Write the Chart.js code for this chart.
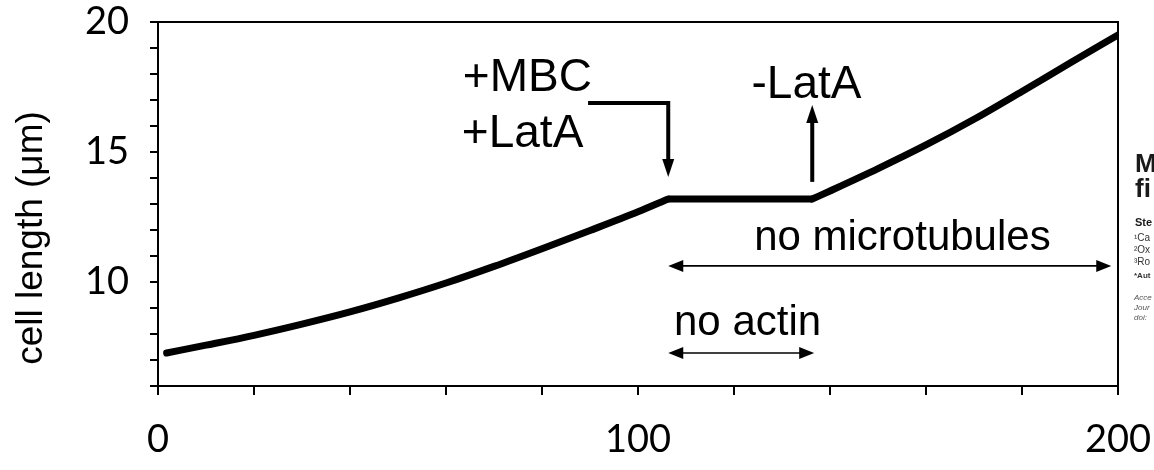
<!DOCTYPE html>
<html>
<head>
<meta charset="utf-8">
<script src="https://cdn.jsdelivr.net/npm/chart.js@4/dist/chart.umd.min.js"></script>
<style>
  html, body { margin: 0; padding: 0; background: #fff; }
  #wrap { width: 1154px; height: 470px; }
</style>
</head>
<body>
<div id="wrap"><canvas id="chart" width="1154" height="470"></canvas></div>
<script>
// Cell length (µm) against time (min)
const growthTime     = [1.8, 10, 20, 30, 40, 50, 60, 70, 80, 90, 100, 106.3];
const growthLength   = [7.27, 7.57, 7.95, 8.38, 8.85, 9.38, 9.96, 10.6, 11.28, 11.98, 12.7, 13.19];
const arrestTime     = [106.3, 136.3];
const arrestLength   = [13.19, 13.19];
const recoveryTime   = [136.3, 140, 150, 160, 170, 180, 190, 200];
const recoveryLength = [13.19, 13.5, 14.36, 15.27, 16.26, 17.33, 18.42, 19.5];

const xTickLabels = [0, 100, 200];
const yTickLabels = [10, 15, 20];

// Drug treatment times
const drugsAdded = 106.3;   // +MBC +LatA
const latAWashed = 136.3;   // -LatA
const timeEnd    = 198.6;

const pts = (xs, ys) => xs.map((v, i) => ({ x: v, y: ys[i] }));
const ARIAL = '"Liberation Sans", Arial, sans-serif';
const TICKFONT = 'Lato, "Open Sans", sans-serif';

function head(ctx, tx, ty, dx, dy, len, w) {
  // filled triangular arrow head with its tip at (tx, ty), pointing along (dx, dy)
  const bx = tx - dx * len, by = ty - dy * len;
  const nx = -dy * w / 2, ny = dx * w / 2;
  ctx.beginPath();
  ctx.moveTo(tx, ty);
  ctx.lineTo(bx + nx, by + ny);
  ctx.lineTo(bx - nx, by - ny);
  ctx.closePath();
  ctx.fill();
}

const frame = {
  id: 'frame',
  beforeDatasetsDraw(chart) {
    const { ctx, chartArea: a } = chart;
    ctx.save();
    ctx.strokeStyle = '#000';
    ctx.lineWidth = 2;
    ctx.beginPath();
    ctx.moveTo(a.left, a.top);
    ctx.lineTo(a.right, a.top);
    ctx.lineTo(a.right, a.bottom);
    ctx.stroke();
    ctx.restore();
  }
};

const annotate = {
  id: 'annotate',
  afterDatasetsDraw(chart) {
    const { ctx, scales: { x, y } } = chart;
    const px = v => x.getPixelForValue(v), py = v => y.getPixelForValue(v);
    ctx.save();
    ctx.fillStyle = '#000';
    ctx.strokeStyle = '#000';

    // treatment labels
    ctx.font = '46px ' + ARIAL;
    ctx.textBaseline = 'alphabetic';
    ctx.textAlign = 'left';
    ctx.fillText('+MBC', px(63.5), py(17.35));
    ctx.fillText('+LatA', px(63.3), py(15.19));
    ctx.textAlign = 'center';
    ctx.fillText('-LatA', px(latAWashed - 1.2), py(17.08));

    // bracket arrow down to the addition point
    const bx = px(drugsAdded);
    ctx.lineWidth = 4;
    ctx.lineJoin = 'miter';
    ctx.beginPath();
    ctx.moveTo(px(89.6), py(16.88));
    ctx.lineTo(bx, py(16.88));
    ctx.lineTo(bx, py(14.04) - 14);
    ctx.stroke();
    head(ctx, bx, py(14.04), 0, 1, 18, 12);

    // arrow up at the wash-out point
    const wx = px(latAWashed);
    ctx.beginPath();
    ctx.moveTo(wx, py(13.85));
    ctx.lineTo(wx, py(16.81) + 14);
    ctx.stroke();
    head(ctx, wx, py(16.81), 0, -1, 18, 12);

    // double-headed spans
    ctx.lineWidth = 1.6;
    const span = (x0, x1, yv) => {
      const a = px(x0), b = px(x1), yy = py(yv);
      ctx.beginPath();
      ctx.moveTo(a + 10, yy);
      ctx.lineTo(b - 10, yy);
      ctx.stroke();
      head(ctx, a, yy, -1, 0, 15, 12);
      head(ctx, b, yy, 1, 0, 15, 12);
    };
    span(drugsAdded, timeEnd, 10.62);
    span(drugsAdded, latAWashed + 0.4, 7.27);

    ctx.font = '42px ' + ARIAL;
    ctx.textAlign = 'left';
    ctx.fillText('no microtubules', px(124.2), py(11.23));
    ctx.fillText('no actin', px(107.5), py(7.96));

    // y axis title
    ctx.save();
    ctx.translate(32, 238);
    ctx.rotate(-Math.PI / 2);
    ctx.textAlign = 'center';
    ctx.textBaseline = 'middle';
    ctx.font = '37px ' + ARIAL;
    ctx.fillText('cell length (\u03BCm)', 0, 0);
    ctx.restore();

    // neighbouring page text at the right edge
    ctx.textAlign = 'left';
    ctx.fillStyle = '#1a1a1a';
    ctx.font = 'bold 26px ' + ARIAL;
    ctx.fillText('M', 1135, 172);
    ctx.fillText('fi', 1135, 197);
    ctx.font = 'bold 11px ' + ARIAL;
    ctx.fillText('Ste', 1135, 226);
    ctx.fillStyle = '#333';
    ctx.font = '10px ' + ARIAL;
    ctx.fillText('\u00B9Ca', 1134, 241);
    ctx.fillText('\u00B2Ox', 1134, 253);
    ctx.fillText('\u00B3Ro', 1134, 265);
    ctx.font = 'bold 8px ' + ARIAL;
    ctx.fillText('*Aut', 1134, 278);
    ctx.fillStyle = '#555';
    ctx.font = 'italic 8px ' + ARIAL;
    ctx.fillText('Acce', 1134, 300);
    ctx.fillText('Jour', 1134, 310);
    ctx.fillText('doi:', 1134, 320);
    ctx.restore();
  }
};

const lineStyle = {
  borderColor: '#000',
  borderWidth: 7,
  pointRadius: 0,
  borderCapStyle: 'round',
  borderJoinStyle: 'round',
  fill: false,
};

new Chart(document.getElementById('chart'), {
  type: 'line',
  data: {
    datasets: [
      { ...lineStyle, data: pts(growthTime, growthLength), cubicInterpolationMode: 'monotone' },
      { ...lineStyle, data: pts(arrestTime, arrestLength), borderJoinStyle: 'miter', borderCapStyle: 'butt' },
      { ...lineStyle, data: pts(recoveryTime, recoveryLength), cubicInterpolationMode: 'monotone' },
    ]
  },
  options: {
    responsive: false,
    animation: false,
    devicePixelRatio: 1,
    layout: { padding: { top: 22, right: 36, left: 0, bottom: 0 } },
    plugins: { legend: { display: false }, tooltip: { enabled: false } },
    scales: {
      x: {
        type: 'linear', min: 0, max: 200,
        ticks: {
          stepSize: 20, autoSkip: false, maxRotation: 0, includeBounds: true,
          callback: v => xTickLabels.includes(v) ? String(v) : '',
          color: '#000', padding: 26,
          font: { family: TICKFONT, size: 38, lineHeight: 1 }
        },
        grid: { drawOnChartArea: false, tickLength: 9, color: '#000', lineWidth: 2 },
        border: { display: true, color: '#000', width: 2 },
        afterFit: s => { s.height = 84; s.paddingLeft = 0; s.paddingRight = 0; }
      },
      y: {
        type: 'linear', min: 6, max: 20,
        ticks: {
          stepSize: 1, autoSkip: false,
          callback: v => yTickLabels.includes(v) ? String(v) : '',
          color: '#000', padding: 21,
          font: { family: TICKFONT, size: 38, lineHeight: 1 }
        },
        grid: { drawOnChartArea: false, tickLength: 8, color: '#000', lineWidth: 2 },
        border: { display: true, color: '#000', width: 2 },
        afterFit: s => { s.width = 158; s.paddingTop = 0; s.paddingBottom = 0; }
      }
    }
  },
  plugins: [frame, annotate]
});
</script>
</body>
</html>
